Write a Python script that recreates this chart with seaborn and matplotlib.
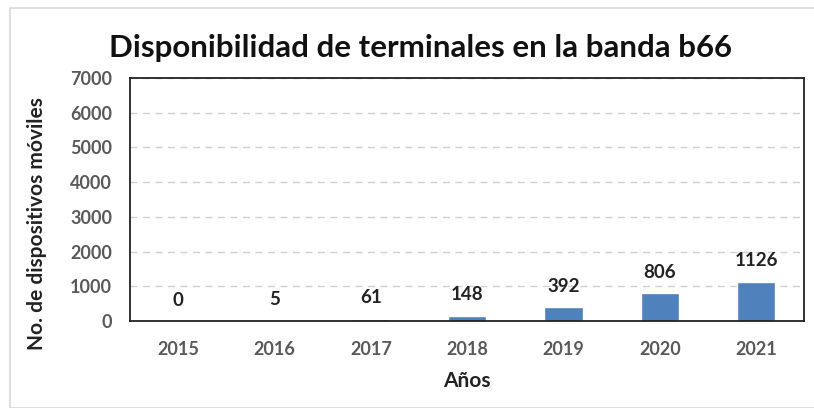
import pandas as pd
import matplotlib.pyplot as plt
import seaborn as sns
from matplotlib.patches import Rectangle

# datos
anios = ['2015', '2016', '2017', '2018', '2019', '2020', '2021']
dispositivos = [0, 5, 61, 148, 392, 806, 1126]

df = pd.DataFrame({'Anio': anios, 'Dispositivos': dispositivos})

sns.set_theme(style='white')
plt.rcParams['font.family'] = ['Lato', 'DejaVu Sans']

fig = plt.figure(figsize=(8.14, 4.08), dpi=100)
ax = fig.add_axes([0.160, 0.213, 0.828, 0.596])

sns.barplot(data=df, x='Anio', y='Dispositivos', color='#4F81BD', width=0.4,
            saturation=1, ax=ax)

ax.set_ylim(0, 7000)
ax.set_yticks(range(0, 7001, 1000))
ax.yaxis.grid(True, linestyle=(0, (5, 4)), color='#D0D0D0', linewidth=1)
ax.set_axisbelow(True)
for s in ax.spines.values():
    s.set_color('#222222')
    s.set_linewidth(1.3)

ax.tick_params(axis='y', length=0, labelsize=13, labelcolor='#595959', pad=13)
ax.tick_params(axis='x', length=0, labelsize=13, labelcolor='#595959', pad=14)
for lbl in ax.get_xticklabels() + ax.get_yticklabels():
    lbl.set_fontweight('bold')

# etiquetas de datos
for i, v in enumerate(dispositivos):
    ax.annotate(str(v), (i, v), xytext=(0, 9), textcoords='offset points',
                ha='center', va='bottom', fontsize=13.5, fontweight='bold',
                color='#222222')

ax.set_xlabel('Años', fontsize=15, fontweight='bold', color='#222222', labelpad=10)
ax.set_ylabel('No. de dispositivos móviles', fontsize=15, fontweight='bold',
              color='#222222')
ax.yaxis.set_label_coords(-0.123, 0.40)

fig.text(0.516, 0.882, 'Disponibilidad de terminales en la banda b66', ha='center',
         va='center', fontsize=22.5, fontweight='bold', color='#111111')

# marco exterior
fig.patches.append(Rectangle((10 / 814, 0), 1, 1 - 8 / 408, transform=fig.transFigure,
                             fill=False, edgecolor='#D9D9D9', linewidth=1.2))

fig.savefig('out.png', dpi=100)
